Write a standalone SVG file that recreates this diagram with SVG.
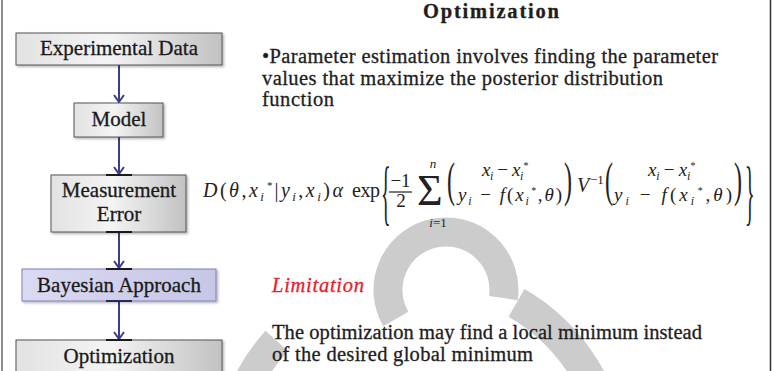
<svg xmlns="http://www.w3.org/2000/svg" width="772" height="371" viewBox="0 0 772 371">
<defs>
<linearGradient id="gGray" x1="0" y1="0" x2="1" y2="0">
<stop offset="0" stop-color="#e2e2e2"/><stop offset="0.45" stop-color="#f4f4f4"/><stop offset="1" stop-color="#c2c2c2"/>
</linearGradient>
<linearGradient id="gBlue" x1="0" y1="0" x2="1" y2="0">
<stop offset="0" stop-color="#dadaf2"/><stop offset="1" stop-color="#c6c6e6"/>
</linearGradient>
<filter id="sh" x="-10%" y="-20%" width="130%" height="160%">
<feDropShadow dx="1.5" dy="1.5" stdDeviation="1" flood-color="#000" flood-opacity="0.3"/>
</filter>
<marker id="ah" viewBox="-9 -6 10 12" refX="0" refY="0" markerWidth="10" markerHeight="12" markerUnits="userSpaceOnUse" orient="auto">
<path d="M-7,-5 L0,0 L-7,5" fill="none" stroke="#3d3d8d" stroke-width="2"/>
</marker>
<style>
.box{fill:url(#gGray);stroke:#555;stroke-width:1;filter:url(#sh)}
.boxb{fill:url(#gBlue);stroke:#7f7fbf;stroke-width:1;filter:url(#sh)}
.lbl{font-family:"Liberation Serif",serif;font-size:21px;fill:#1a1a1a;stroke:#1a1a1a;stroke-width:0.3px;text-anchor:middle}
.conn{stroke:#3d3d8d;stroke-width:2;fill:none;marker-end:url(#ah)}
.bar{fill:#1a1a1a}
.wm{fill:none;stroke:#cccccc}
.body{font-family:"Liberation Serif",serif;font-size:20.5px;fill:#1e1e1e;stroke:#1e1e1e;stroke-width:0.3px}
.red{fill:#e8202a;stroke:#e8202a;font-style:italic}
.m{font-family:"Liberation Serif",serif;font-style:italic;fill:#222}
.r{font-family:"Liberation Serif",serif;font-style:normal;fill:#222}
.u{font-style:normal}
</style>
</defs>
<rect x="0" y="0" width="772" height="371" fill="#ffffff"/>
<g id="watermark">
<path class="wm" stroke-width="29" d="M395.8,319 A58,58 0 1 1 503.4,298.1"/>
<path class="wm" stroke-width="32" d="M516.5,302.9 A193,193 0 0 1 610,436.5"/>
<path class="wm" stroke-width="30" d="M238.6,404 A193,193 0 0 1 276.6,340.9"/>
</g>
<g id="frame">
<line x1="2" y1="0" x2="2" y2="371" stroke="#666" stroke-width="1.5"/>
<line x1="770.5" y1="0" x2="770.5" y2="371" stroke="#333" stroke-width="1.5"/>
</g>
<g id="connectors">
<line class="conn" x1="119" y1="65" x2="119" y2="102"/>
<line class="conn" x1="119" y1="137" x2="119" y2="174"/>
<line class="conn" x1="119" y1="232" x2="119" y2="268"/>
<line class="conn" x1="119" y1="301" x2="119" y2="339"/>
</g>
<g id="node-experimental-data">
<rect class="box" x="16" y="33" width="206" height="32"/>
<text class="lbl" x="119" y="55">Experimental Data</text>
</g>
<g id="node-model">
<rect class="box" x="74" y="103" width="89" height="34"/>
<text class="lbl" x="119" y="126">Model</text>
</g>
<g id="node-measurement-error">
<rect class="box" x="51" y="175" width="135" height="57"/>
<rect class="bar" x="106" y="174" width="26" height="2"/>
<rect class="bar" x="106" y="231" width="26" height="2"/>
<text class="lbl" x="119" y="197">Measurement</text>
<text class="lbl" x="119" y="221">Error</text>
</g>
<g id="node-bayesian-approach">
<rect class="boxb" x="22" y="269" width="194" height="32"/>
<rect class="bar" x="106" y="268" width="26" height="2"/>
<rect x="106" y="300" width="26" height="2" fill="#2a2a5a"/>
<text class="lbl" x="119" y="292">Bayesian Approach</text>
</g>
<g id="node-optimization">
<rect class="box" x="16" y="340" width="206" height="40"/>
<rect class="bar" x="106" y="339" width="26" height="2"/>
<text class="lbl" x="119" y="363">Optimization</text>
</g>
<g id="text-panel">
<text class="body" x="491" y="18" text-anchor="middle" font-weight="bold" font-size="22" textLength="136" lengthAdjust="spacing">Optimization</text>
<text class="body" x="262" y="63" textLength="456" lengthAdjust="spacing">•Parameter estimation involves finding the parameter</text>
<text class="body" x="262" y="84.5" textLength="401" lengthAdjust="spacing">values that maximize the posterior distribution</text>
<text class="body" x="262" y="106" textLength="72" lengthAdjust="spacing">function</text>
<text class="body red" x="272" y="292" textLength="92" lengthAdjust="spacing">Limitation</text>
<text class="body" x="272" y="339" textLength="430" lengthAdjust="spacing">The optimization may find a local minimum instead</text>
<text class="body" x="272" y="361" textLength="261" lengthAdjust="spacing">of the desired global minimum</text>
</g>
<g id="formula">
<text class="m" x="203" y="197" font-size="20" textLength="140" lengthAdjust="spacing">D<tspan class="u">(</tspan>θ<tspan class="u">,</tspan>x<tspan font-size="13" baseline-shift="-4">i</tspan><tspan font-size="11" baseline-shift="8">*</tspan><tspan class="u">|</tspan>y<tspan font-size="13" baseline-shift="-4">i</tspan><tspan class="u">,</tspan>x<tspan font-size="13" baseline-shift="-4">i</tspan><tspan class="u">)</tspan>α</text>
<text class="r" x="352" y="197" font-size="20" textLength="28" lengthAdjust="spacing">exp</text>
<text class="r" font-size="20" transform="translate(381,216.3) scale(1,3.6)">{</text>
<text class="r" x="400.5" y="187" font-size="19" text-anchor="middle">−1</text>
<line x1="389" y1="192" x2="412" y2="192" stroke="#222" stroke-width="1.2"/>
<text class="r" x="401" y="207" font-size="19" text-anchor="middle">2</text>
<text class="r" x="417" y="205" font-size="44">Σ</text>
<text class="m" x="433" y="168" font-size="13" text-anchor="middle">n</text>
<text class="m" x="438" y="227" font-size="13" text-anchor="middle">i<tspan class="u">=1</tspan></text>
<text class="r" font-size="24" transform="translate(447,196) scale(1,2.05)">(</text>
<text class="m" x="505" y="176" font-size="19" text-anchor="middle" textLength="46" lengthAdjust="spacing">x<tspan font-size="12" baseline-shift="-4">i</tspan><tspan class="u"> − </tspan>x<tspan font-size="12" baseline-shift="-4">i</tspan><tspan font-size="10" baseline-shift="7">*</tspan></text>
<text class="m" x="458" y="201" font-size="19" textLength="104" lengthAdjust="spacing">y<tspan font-size="12" baseline-shift="-4">i</tspan><tspan class="u"> − </tspan>f<tspan class="u">(</tspan>x<tspan font-size="12" baseline-shift="-4">i</tspan><tspan font-size="10" baseline-shift="7">*</tspan><tspan class="u">,</tspan>θ<tspan class="u">)</tspan></text>
<text class="r" font-size="24" transform="translate(564,196) scale(1,2.05)">)</text>
<text class="m" x="577" y="192" font-size="20">V</text>
<text class="r" x="590" y="184" font-size="13">−1</text>
<text class="r" font-size="24" transform="translate(605,196) scale(1,2.05)">(</text>
<text class="m" x="671.5" y="176" font-size="19" text-anchor="middle" textLength="47" lengthAdjust="spacing">x<tspan font-size="12" baseline-shift="-4">i</tspan><tspan class="u"> − </tspan>x<tspan font-size="12" baseline-shift="-4">i</tspan><tspan font-size="10" baseline-shift="7">*</tspan></text>
<text class="m" x="614" y="201" font-size="19" textLength="118" lengthAdjust="spacing">y<tspan font-size="12" baseline-shift="-4">i</tspan><tspan class="u"> − </tspan>f<tspan class="u">(</tspan>x<tspan font-size="12" baseline-shift="-4">i</tspan><tspan font-size="10" baseline-shift="7">*</tspan><tspan class="u">,</tspan>θ<tspan class="u">)</tspan></text>
<text class="r" font-size="24" transform="translate(734,196) scale(1,2.05)">)</text>
<text class="r" font-size="20" transform="translate(745,216.3) scale(1,3.6)">}</text>
</g>
</svg>
